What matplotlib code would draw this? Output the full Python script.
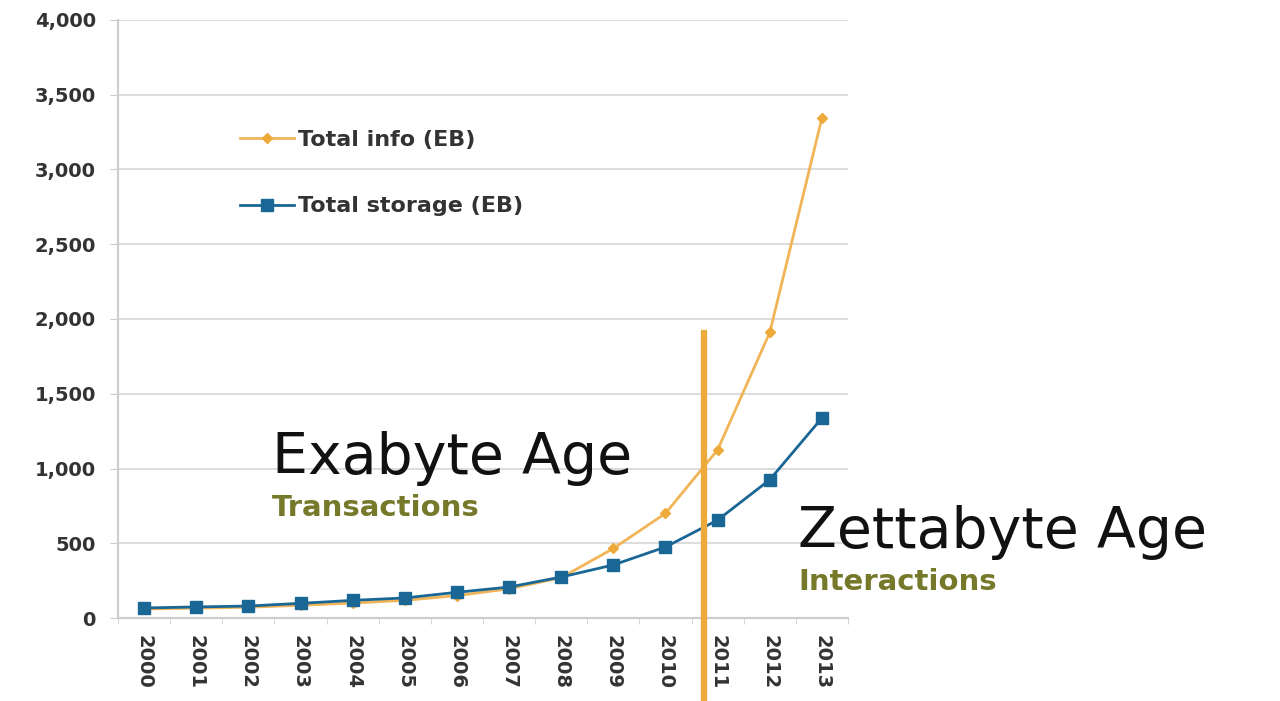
import numpy as np
import matplotlib.pyplot as plt
from matplotlib.lines import Line2D

years = [str(y) for y in range(2000, 2014)]
total_info = [60, 66, 72, 85, 100, 118, 150, 195, 270, 465, 700, 1125, 1910, 3345]
total_storage = [67, 74, 80, 98, 118, 134, 172, 207, 274, 355, 475, 655, 925, 1338]
yticks = [0, 500, 1000, 1500, 2000, 2500, 3000, 3500, 4000]

orange = "#EDA93A"
blue = "#1A6694"
olive = "#76782A"

fig = plt.figure(figsize=(12.8, 7.01), dpi=100)
ax = fig.add_axes([118 / 1280, 83 / 701, 730 / 1280, 598 / 701])

x = np.arange(len(years))
ax.plot(x, total_info, color="#F1B558", lw=2, marker="D", ms=5,
        mfc=orange, mec=orange, label="Total info (EB)", zorder=3)
ax.plot(x, total_storage, color=blue, lw=2, marker="s", ms=9,
        mfc=blue, mec=blue, label="Total storage (EB)", zorder=4)

ax.set_xlim(-0.5, len(years) - 0.5)
ax.set_ylim(0, 4000)
ax.set_yticks(yticks)
ax.set_yticklabels([f"{v:,}" for v in yticks], fontsize=14, fontweight="bold",
                   color="#333333")
ax.set_xticks(x)
ax.set_xticklabels(years, rotation=-90, fontsize=14, fontweight="bold",
                   color="#333333")
ax.set_xticks(np.arange(-0.5, len(years)), minor=True)
ax.tick_params(axis="x", which="major", length=0, pad=12)
ax.tick_params(axis="x", which="minor", length=4, color="#cccccc")
ax.tick_params(axis="y", length=6, color="#cccccc", pad=10)
ax.grid(axis="y", color="#dddddd", lw=1.5)
ax.set_axisbelow(True)
for s in ["top", "right"]:
    ax.spines[s].set_visible(False)
for s in ["left", "bottom"]:
    ax.spines[s].set_color("#cccccc")
    ax.spines[s].set_linewidth(1.5)

# divider between the two ages
ax.add_line(Line2D([10.73, 10.73], [0.4766, -0.14], color=orange, lw=4.5,
                   transform=ax.get_xaxis_transform(), clip_on=False, zorder=5))

ax.legend(loc="upper left", bbox_to_anchor=(0.14, 0.85), frameon=False,
          handlelength=2.4, labelspacing=2.1, handletextpad=0.2,
          prop={"size": 16, "weight": "bold"}, labelcolor="#333333")

fig.text(272 / 1280, 1 - 458 / 701, "Exabyte Age", fontsize=41, va="center",
         color="#111111")
fig.text(272 / 1280, 1 - 508 / 701, "Transactions", fontsize=21,
         fontweight="bold", va="center", color=olive)
fig.text(798 / 1280, 1 - 533 / 701, "Zettabyte Age", fontsize=41, va="center",
         color="#111111")
fig.text(798 / 1280, 1 - 582 / 701, "Interactions", fontsize=21,
         fontweight="bold", va="center", color=olive)

fig.savefig("out.png", dpi=100)
